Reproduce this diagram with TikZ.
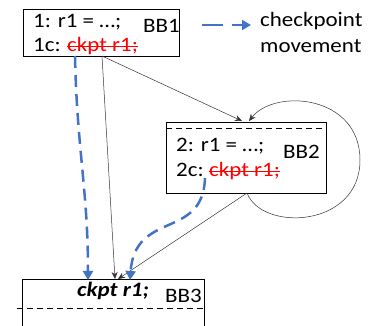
\documentclass[tikz,border=0pt]{standalone}
\usepackage{fontspec}
\setmainfont{Carlito}
\usetikzlibrary{arrows.meta}
\definecolor{mvblue}{RGB}{68,114,196}
\newcommand\wtxt[1]{\scalebox{1.12}[1]{#1}}
\begin{document}
\begin{tikzpicture}[x=1pt,y=-1pt,
  box/.style={draw=black, line width=1pt, inner sep=0pt, anchor=north west},
  txt/.style={anchor=base west, inner sep=0pt, font=\fontsize{20.5}{24}\selectfont},
  strike/.style={draw=red, line width=1pt},
  flow/.style={draw=black!80, line width=0.5pt, -{Stealth[length=7pt,width=6pt]}},
  move/.style={draw=mvblue, line width=2.5pt, dash pattern=on 12pt off 7pt, -{Triangle[length=9pt,width=10pt]}},
  sep/.style={draw=black, line width=1pt, dash pattern=on 6pt off 4pt}]
\useasboundingbox (0,0) rectangle (378,326);
% boxes
\node[box, minimum width=156pt, minimum height=47pt] (bb1) at (23,9) {};
\node[box, minimum width=160pt, minimum height=71pt] (bb2) at (166,122) {};
\draw[line width=1pt] (22,326) -- (22,280) -- (204,280) -- (204,326);
\coordinate (bb3t1) at (115,279);
\coordinate (bb3t2) at (118,279);
\coordinate (bb3b1) at (88,280);
\coordinate (bb3b2) at (130,280);
\draw[sep] (166,129) -- (326,129);
\draw[sep] (17,308) -- (204,308);
% texts
\node[txt] (t1) at (33,27.5) {\wtxt{1: r1 = …;}};
\node[txt] (l1) at (143,33) {\wtxt{BB1}};
\node[txt] (t1c) at (33,52) {\wtxt{1c:}};
\node[txt, text=red] (r1) at (67,52) {\wtxt{ckpt r1;}};
\draw[strike] ([yshift=5.5pt]r1.base west) -- ([yshift=5.5pt]r1.base east);
\node[txt] (t2) at (176,152) {\wtxt{2: r1 = …;}};
\node[txt] (l2) at (283,159) {\wtxt{BB2}};
\node[txt] (t2c) at (176,177) {\wtxt{2c:}};
\node[txt, text=red] (r2) at (209,177) {\wtxt{ckpt r1;}};
\draw[strike] ([yshift=5.5pt]r2.base west) -- ([yshift=5.5pt]r2.base east);
\node[txt] (t3) at (77,296) {\wtxt{\bfseries\itshape ckpt r1;}};
\node[txt] (l3) at (165,302) {\wtxt{BB3}};
\node[txt] (lg1) at (260,27) {\wtxt{checkpoint}};
\node[txt] (lg2) at (260,53) {\wtxt{movement}};
% control flow
\coordinate (o1) at (102,56);
\coordinate (o2) at (247,193);
\coordinate (i2) at (242,121);
\coordinate (i2b) at (249,121);
\draw[flow] (o1) -- (bb3t1);
\draw[flow] (o1) -- (i2);
\draw[flow] (o2) -- (bb3t2);
\draw[flow] (o2) .. controls (262,232) and (360,228) .. (360,160) .. controls (360,95) and (275,88) .. (i2b);
% checkpoint movement
\coordinate (m1) at (75,56);
\coordinate (m2) at (205,178);
\draw[move] (m1) .. controls (77,150) and (88,190) .. (bb3b1);
\draw[move] (m2) .. controls (203,240) and (135,210) .. (bb3b2);
\coordinate (lga) at (202,25);
\coordinate (lgb) at (251,25);
\draw[move, dash pattern=on 21pt off 9pt] (lga) -- (lgb);
\end{tikzpicture}
\end{document}
